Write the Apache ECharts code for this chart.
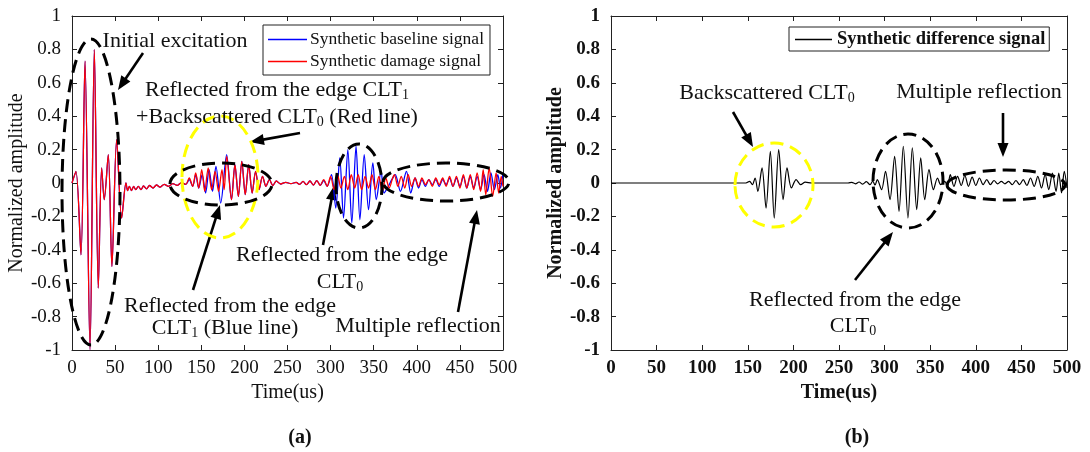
<!DOCTYPE html>
<html><head><meta charset="utf-8">
<script src="https://cdn.jsdelivr.net/npm/echarts@6/dist/echarts.min.js"></script>
<style>html,body{margin:0;padding:0;background:#fff}#c{width:1090px;height:452px}</style>
</head><body><div id="c"></div>
<script>
// ---------- data (time in us, normalized amplitude) ----------
const timeRange = [0, 500];
const ampRange = [-1, 1];

// shared by both signals in (a): initial excitation and its tail
const excitation = [[0,0],[4.6,0.07],[10.4,-0.43],[15.1,0.73],[20.9,-1.0],[25.9,0.8],[30.5,-0.63],[34.4,0.09],[37.4,-0.1],[42.1,0.17],[46.3,-0.5],[51.8,0.26],[57.6,-0.21],[62.6,0.0],[64.5,-0.045],[66.5,-0.02],[69,-0.045],[71.5,-0.02],[74,-0.04],[77,-0.02],[80,-0.04],[83,-0.018],[86.5,-0.035],[90,-0.015],[94,-0.03],[98,-0.012],[102,-0.025],[107,-0.008],[112,-0.02],[117,-0.004],[122,-0.014],[127,0.002],[132,-0.008]];
// CLT1 edge reflection region, where the two signals differ
const baselineBackscatter = [[136,0.02],[140,-0.02],[143.5,0.05],[147,-0.03],[151,0.05],[155,-0.06],[159,0.08],[163,-0.05],[167,0.1],[172.5,-0.12],[179.4,0.17]];
const damageBackscatter = [[136,0.03],[140,-0.02],[143.5,0.06],[147,-0.03],[150.5,0.08],[154,-0.05],[158,0.09],[162,-0.04],[166,0.07],[170,-0.05],[174,0.08],[176.5,-0.04],[179.5,0.16]];
// shared end of CLT1 reflection and quiet part
const edgeClt1 = [[185,-0.1],[189,0.11],[193,-0.08],[197,0.13],[201,-0.07],[205,0.11],[209,-0.06],[213,0.07],[217,-0.04],[221,0.04],[225,-0.02],[229,0.02],[233,-0.015],[237,0.012],[242,-0.006],[248,0.004],[254,-0.004],[260,0.004],[264,-0.008],[268,0.01],[272,-0.01],[276,0.012],[280,-0.012],[284,0.014],[288,-0.014]];
// CLT0 edge reflection
const baselineClt0 = [[292,0.015],[296,-0.02],[301,0.05],[306,-0.15],[310.6,0.15],[315,-0.21],[320,0.2],[324.6,-0.24],[329.5,0.22],[334,-0.22],[339,0.17],[344,-0.16],[349,0.12],[353,-0.1],[358.6,0.07],[362,-0.06]];
const damageClt0 = [[292,0.02],[296,-0.02],[300,0.04],[304,-0.04],[308,0.05],[312,-0.03],[316,0.04],[320,-0.04],[324,0.05],[328,-0.03],[332,0.05],[336,-0.04],[340,0.04],[344,-0.03],[348,0.05],[352,-0.04],[356,0.04],[360,-0.05],[364,0.03]];
// multiple reflections
const baselineMulti = [[367,-0.02],[371,0.02],[375,0.05],[381,-0.05],[388,0.07],[393,-0.06],[398,0.03],[402,-0.03],[406,0.02],[410,-0.02],[414,0.02],[418,-0.01],[422,0.02],[426,-0.02],[430,0.02],[434,-0.01],[438,0.03],[442,-0.02],[446,0.03],[450,-0.02],[454,0.04],[458,-0.03],[462,0.04],[466,-0.03],[470,0.04],[474,-0.04],[478,0.05],[482,-0.05],[486,0.06],[490,-0.04],[494,0.05],[497,-0.03],[500,0.06]];
const damageMulti = [[368,-0.03],[372,0.03],[374,0.05],[378,-0.02],[382,0.04],[386,-0.03],[390,0.05],[394,-0.02],[398,0.03],[402,-0.02],[406,0.03],[410,-0.01],[414,0.02],[418,-0.02],[422,0.03],[426,-0.01],[430,0.03],[434,-0.02],[438,0.04],[442,-0.02],[446,0.04],[450,-0.03],[454,0.05],[458,-0.03],[462,0.05],[466,-0.04],[470,0.06],[474,-0.05],[477,0.08],[480,-0.07],[484,0.09],[488,-0.08],[492,0.06],[495,-0.06],[498,0.04],[500,-0.02]];
// (b) difference signal
const difference = [[0,0],[148,0],[152,0.01],[155,-0.01],[158,0.03],[161,-0.05],[165.6,0.09],[170,-0.15],[174.7,0.19],[179,-0.21],[183.9,0.2],[188.7,-0.1],[193,0.09],[197.8,-0.03],[203,0.02],[208,-0.01],[213,0.005],[220,0],[260,0],[264,0.004],[268,-0.005],[272,0.006],[276,-0.007],[280,0.008],[284,-0.01],[287,0.012],[289.5,-0.012],[292,0.02],[296.7,-0.04],[301,0.07],[305.9,-0.1],[311,0.16],[315.8,-0.17],[320.5,0.22],[325.6,-0.21],[330.4,0.21],[335.2,-0.16],[339.6,0.15],[344,-0.1],[348.7,0.08],[353.5,-0.04],[358,0.03],[361.5,-0.01],[366,0.01],[369,-0.02],[372,0.05],[376,-0.02],[380,0.04],[384,-0.015],[388,0.045],[392,-0.02],[396,0.035],[400,-0.015],[404,0.03],[408,-0.01],[412,0.02],[416,-0.01],[420,0.015],[424,-0.005],[428,0.01],[432,-0.005],[436,0.01],[440,-0.01],[444,0.015],[448,-0.01],[452,0.02],[456,-0.015],[460,0.03],[464,-0.02],[468,0.04],[472,-0.03],[476,0.05],[480,-0.04],[484,0.06],[488,-0.05],[491,0.06],[494,-0.06],[497,0.07],[500,-0.03]];

const baseline = [].concat(excitation, baselineBackscatter, edgeClt1, baselineClt0, baselineMulti);
const damage = [].concat(excitation, damageBackscatter, edgeClt1, damageClt0, damageMulti);

// ---------- chart ----------
const SERIF = '"Liberation Serif","Times New Roman",serif';
const AX = '#222';
const chart = echarts.init(document.getElementById('c'), null, {renderer: 'canvas'});

function xAxes(gi, bold) {
  const common = {gridIndex: gi, type: 'value', min: timeRange[0], max: timeRange[1], interval: 50,
    axisLine: {onZero: false, lineStyle: {color: AX, width: 1}},
    axisTick: {inside: true, length: 5, lineStyle: {color: AX}},
    splitLine: {show: false}};
  return [
    Object.assign({}, common, {position: 'bottom',
      axisLabel: {color: '#111', fontFamily: SERIF, fontSize: 19, margin: 9, fontWeight: bold ? 'bold' : 'normal'},
      name: 'Time(us)', nameLocation: 'middle', nameGap: 32,
      nameTextStyle: {color: '#111', fontFamily: SERIF, fontSize: 20, fontWeight: bold ? 'bold' : 'normal'}}),
    Object.assign({}, common, {position: 'top', axisLabel: {show: false}})
  ];
}
function yAxes(gi, bold) {
  const common = {gridIndex: gi, type: 'value', min: ampRange[0], max: ampRange[1], interval: 0.2,
    axisLine: {onZero: false, lineStyle: {color: AX, width: 1}},
    axisTick: {inside: true, length: 5, lineStyle: {color: AX}},
    splitLine: {show: false}};
  return [
    Object.assign({}, common, {position: 'left',
      axisLabel: {color: '#111', fontFamily: SERIF, fontSize: 19, margin: 11, fontWeight: bold ? 'bold' : 'normal'},
      name: 'Normalized amplitude', nameLocation: 'middle', nameGap: 41, nameRotate: 90,
      nameTextStyle: {color: '#111', fontFamily: SERIF, fontSize: 20, fontWeight: bold ? 'bold' : 'normal'}}),
    Object.assign({}, common, {position: 'right', axisLabel: {show: false}})
  ];
}

function ellipse(cx, cy, rx, ry, color) {
  return {type: 'ellipse', z: 100, shape: {cx, cy, rx, ry},
    style: {fill: null, stroke: color, lineWidth: 3, lineDash: [13, 7]}};
}
function arrow(x1, y1, x2, y2) {
  const dx = x2 - x1, dy = y2 - y1, L = Math.sqrt(dx*dx + dy*dy);
  const ux = dx / L, uy = dy / L, hl = 14, hw = 5.5;
  const bx = x2 - ux*hl, by = y2 - uy*hl;
  return {type: 'group', z: 100, children: [
    {type: 'line', shape: {x1, y1, x2: bx + ux*2, y2: by + uy*2}, style: {stroke: '#000', lineWidth: 2.6}},
    {type: 'polygon', shape: {points: [[x2, y2], [bx - uy*hw, by + ux*hw], [bx + uy*hw, by - ux*hw]]}, style: {fill: '#000'}}
  ]};
}
const RICH = {
  n: {fontFamily: SERIF, fontSize: 22, lineHeight: 24, color: '#111'},
  s: {fontFamily: SERIF, fontSize: 14, lineHeight: 8, verticalAlign: 'bottom', color: '#111'}
};
function label(x, y, text, extra) {
  return {type: 'text', z: 101, style: Object.assign({x, y, text, rich: RICH,
    fontFamily: SERIF, fontSize: 22, fill: '#111', textAlign: 'center', textVerticalAlign: 'middle', verticalAlign: 'middle'}, extra || {})};
}

const option = {
  animation: false,
  backgroundColor: '#fff',
  grid: [
    {left: 72, right: 587, top: 16, bottom: 102},
    {left: 611, right: 23, top: 16, bottom: 102}
  ],
  xAxis: [].concat(xAxes(0, false), xAxes(1, true)),
  yAxis: [].concat(yAxes(0, false), yAxes(1, true)),
  legend: [
    {data: ['Synthetic baseline signal', 'Synthetic damage signal'], orient: 'vertical',
     left: 263, top: 25, padding: [5, 6, 4, 5], itemGap: 3, itemWidth: 39, itemHeight: 1.5, icon: 'rect',
     borderColor: AX, borderWidth: 1, backgroundColor: '#fff',
     textStyle: {fontFamily: SERIF, fontSize: 17.5, color: '#111', lineHeight: 19, padding: [0, 0, 0, -2]}},
    {data: ['Synthetic difference signal'], orient: 'vertical',
     left: 789, top: 27, padding: [3, 4, 2, 6], itemWidth: 37, itemHeight: 1.5, icon: 'rect',
     borderColor: AX, borderWidth: 1, backgroundColor: '#fff',
     textStyle: {fontFamily: SERIF, fontSize: 18.5, fontWeight: 'bold', color: '#111', lineHeight: 19}}
  ],
  series: [
    {name: 'Synthetic baseline signal', type: 'line', xAxisIndex: 0, yAxisIndex: 0, data: baseline,
     showSymbol: false, smooth: 0.3, lineStyle: {color: '#0000ff', width: 1.3}, itemStyle: {color: '#0000ff'}, z: 2},
    {name: 'Synthetic damage signal', type: 'line', xAxisIndex: 0, yAxisIndex: 0, data: damage,
     showSymbol: false, smooth: 0.3, lineStyle: {color: '#ff0000', width: 1.3}, itemStyle: {color: '#ff0000'}, z: 3},
    {name: 'Synthetic difference signal', type: 'line', xAxisIndex: 2, yAxisIndex: 2, data: difference,
     showSymbol: false, smooth: 0.3, lineStyle: {color: '#000', width: 1.2}, itemStyle: {color: '#000'}, z: 2}
  ],
  graphic: [
    // (a) annotations
    ellipse(91, 192, 29, 153, '#000'),
    label(175, 41, 'Initial excitation'),
    arrow(143, 53, 118, 90),
    label(277, 90, '{n|Reflected from the edge CLT}{s|1}'),
    label(277, 117, '{n|+Backscattered CLT}{s|0}{n| (Red line)}'),
    arrow(300, 133, 250, 142),
    ellipse(220, 177, 38, 61, '#ffff00'),
    ellipse(221, 184, 51, 21, '#000'),
    arrow(193, 290, 220, 205),
    label(230, 306, 'Reflected from the edge'),
    label(225, 328, '{n|CLT}{s|1}{n| (Blue line)}'),
    ellipse(359, 186, 23, 42, '#000'),
    arrow(323, 245, 334, 186),
    label(342, 255, 'Reflected from the edge'),
    label(340, 282, '{n|CLT}{s|0}'),
    ellipse(446, 182, 63, 19, '#000'),
    arrow(458, 312, 477, 210),
    label(418, 326, 'Multiple reflection'),
    // (b) annotations
    label(767, 93, '{n|Backscattered CLT}{s|0}'),
    arrow(733, 112, 753, 147),
    ellipse(774, 185, 39, 42, '#ffff00'),
    ellipse(908, 181, 35, 47, '#000'),
    ellipse(1006, 185, 59, 15, '#000'),
    label(979, 92, 'Multiple reflection'),
    arrow(1003, 113, 1003, 157),
    arrow(855, 280, 893, 232),
    label(855, 300, 'Reflected from the edge'),
    label(853, 326, '{n|CLT}{s|0}'),
    // panel labels
    {type: 'text', z: 101, style: {x: 300, y: 438, text: '(a)', fontFamily: SERIF, fontSize: 20, fontWeight: 'bold', fill: '#111', textAlign: 'center', textVerticalAlign: 'middle', verticalAlign: 'middle'}},
    {type: 'text', z: 101, style: {x: 857, y: 438, text: '(b)', fontFamily: SERIF, fontSize: 20, fontWeight: 'bold', fill: '#111', textAlign: 'center', textVerticalAlign: 'middle', verticalAlign: 'middle'}}
  ]
};
chart.setOption(option);
</script>
</body></html>
